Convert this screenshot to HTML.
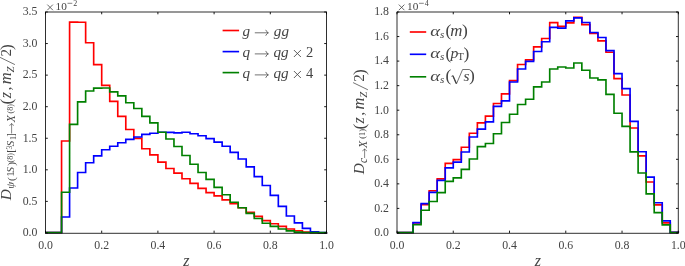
<!DOCTYPE html>
<html><head><meta charset="utf-8">
<style>
html,body{margin:0;padding:0;background:#fff;}
body{width:685px;height:266px;overflow:hidden;}
svg{display:block;}
text{font-family:"Liberation Serif",serif;fill:#444444;}
.tk{font-size:11.8px;}
.it{font-style:italic;}
.yl text{fill:#454545;}
</style></head><body>
<svg width="685" height="266" viewBox="0 0 685 266">
<rect width="685" height="266" fill="#fff"/>
<!-- LEFT CHART -->
<path d="M45.50 232.50 L45.50 232.50 L53.53 232.50 L53.53 232.50 L61.56 232.50 L61.56 141.00 L69.59 141.00 L69.59 22.10 L77.61 22.10 L77.61 22.20 L85.64 22.20 L85.64 42.70 L93.67 42.70 L93.67 64.70 L101.70 64.70 L101.70 85.40 L109.73 85.40 L109.73 101.40 L117.76 101.40 L117.76 116.30 L125.79 116.30 L125.79 129.50 L133.81 129.50 L133.81 138.40 L141.84 138.40 L141.84 148.70 L149.87 148.70 L149.87 154.90 L157.90 154.90 L157.90 162.10 L165.93 162.10 L165.93 168.50 L173.96 168.50 L173.96 173.10 L181.99 173.10 L181.99 178.70 L190.01 178.70 L190.01 183.40 L198.04 183.40 L198.04 188.30 L206.07 188.30 L206.07 192.60 L214.10 192.60 L214.10 195.80 L222.13 195.80 L222.13 199.90 L230.16 199.90 L230.16 203.60 L238.19 203.60 L238.19 207.70 L246.21 207.70 L246.21 212.30 L254.24 212.30 L254.24 216.40 L262.27 216.40 L262.27 220.60 L270.30 220.60 L270.30 223.70 L278.33 223.70 L278.33 226.30 L286.36 226.30 L286.36 229.00 L294.39 229.00 L294.39 230.70 L302.41 230.70 L302.41 232.00 L310.44 232.00 L310.44 232.40 L318.47 232.40 L318.47 232.70 L326.50 232.70 L326.50 232.50" fill="none" stroke="#ff0000" stroke-width="1.65" stroke-linejoin="miter"/>
<path d="M45.50 232.50 L45.50 232.50 L53.53 232.50 L53.53 232.50 L61.56 232.50 L61.56 217.00 L69.59 217.00 L69.59 188.00 L77.61 188.00 L77.61 172.50 L85.64 172.50 L85.64 162.70 L93.67 162.70 L93.67 155.90 L101.70 155.90 L101.70 149.70 L109.73 149.70 L109.73 146.20 L117.76 146.20 L117.76 142.70 L125.79 142.70 L125.79 139.40 L133.81 139.40 L133.81 137.00 L141.84 137.00 L141.84 134.30 L149.87 134.30 L149.87 133.20 L157.90 133.20 L157.90 132.20 L165.93 132.20 L165.93 132.40 L173.96 132.40 L173.96 132.80 L181.99 132.80 L181.99 132.20 L190.01 132.20 L190.01 133.70 L198.04 133.70 L198.04 135.70 L206.07 135.70 L206.07 138.60 L214.10 138.60 L214.10 142.10 L222.13 142.10 L222.13 146.20 L230.16 146.20 L230.16 152.40 L238.19 152.40 L238.19 159.00 L246.21 159.00 L246.21 166.90 L254.24 166.90 L254.24 176.60 L262.27 176.60 L262.27 185.50 L270.30 185.50 L270.30 195.30 L278.33 195.30 L278.33 206.30 L286.36 206.30 L286.36 216.00 L294.39 216.00 L294.39 222.80 L302.41 222.80 L302.41 228.40 L310.44 228.40 L310.44 231.70 L318.47 231.70 L318.47 232.60 L326.50 232.60 L326.50 232.50" fill="none" stroke="#0000ff" stroke-width="1.65" stroke-linejoin="miter"/>
<path d="M45.50 232.50 L45.50 232.50 L53.53 232.50 L53.53 232.50 L61.56 232.50 L61.56 192.20 L69.59 192.20 L69.59 124.40 L77.61 124.40 L77.61 101.90 L85.64 101.90 L85.64 91.00 L93.67 91.00 L93.67 88.10 L101.70 88.10 L101.70 88.00 L109.73 88.00 L109.73 91.80 L117.76 91.80 L117.76 95.90 L125.79 95.90 L125.79 102.70 L133.81 102.70 L133.81 108.50 L141.84 108.50 L141.84 116.30 L149.87 116.30 L149.87 122.90 L157.90 122.90 L157.90 132.20 L165.93 132.20 L165.93 139.00 L173.96 139.00 L173.96 146.50 L181.99 146.50 L181.99 155.50 L190.01 155.50 L190.01 164.20 L198.04 164.20 L198.04 172.50 L206.07 172.50 L206.07 179.30 L214.10 179.30 L214.10 187.30 L222.13 187.30 L222.13 194.70 L230.16 194.70 L230.16 202.20 L238.19 202.20 L238.19 207.70 L246.21 207.70 L246.21 213.30 L254.24 213.30 L254.24 218.50 L262.27 218.50 L262.27 223.20 L270.30 223.20 L270.30 226.30 L278.33 226.30 L278.33 229.00 L286.36 229.00 L286.36 230.90 L294.39 230.90 L294.39 232.10 L302.41 232.10 L302.41 232.50 L310.44 232.50 L310.44 232.60 L318.47 232.60 L318.47 232.60 L326.50 232.60 L326.50 232.50" fill="none" stroke="#008000" stroke-width="1.65" stroke-linejoin="miter"/>
<path d="M222.60 30.50 H239.10" stroke="#ff0000" stroke-width="1.65"/>
<path d="M222.60 51.60 H239.10" stroke="#0000ff" stroke-width="1.65"/>
<path d="M222.60 72.60 H239.10" stroke="#008000" stroke-width="1.65"/>
<g style="filter:grayscale(1)">
<path d="M45.50 11.70 V233.70 M326.50 11.70 V233.70 M45.50 12.00 H326.50 M45.50 233.30 H326.50" fill="none" stroke="#000" stroke-width="0.82"/>
<path d="M45.50 232.95 v-2.30 M45.50 12.00 v2.30" stroke="#000" stroke-width="0.9" fill="none"/>
<text x="45.50" y="249.3" text-anchor="middle" class="tk">0.0</text>
<path d="M101.70 232.95 v-2.30 M101.70 12.00 v2.30" stroke="#000" stroke-width="0.9" fill="none"/>
<text x="101.70" y="249.3" text-anchor="middle" class="tk">0.2</text>
<path d="M157.90 232.95 v-2.30 M157.90 12.00 v2.30" stroke="#000" stroke-width="0.9" fill="none"/>
<text x="157.90" y="249.3" text-anchor="middle" class="tk">0.4</text>
<path d="M214.10 232.95 v-2.30 M214.10 12.00 v2.30" stroke="#000" stroke-width="0.9" fill="none"/>
<text x="214.10" y="249.3" text-anchor="middle" class="tk">0.6</text>
<path d="M270.30 232.95 v-2.30 M270.30 12.00 v2.30" stroke="#000" stroke-width="0.9" fill="none"/>
<text x="270.30" y="249.3" text-anchor="middle" class="tk">0.8</text>
<path d="M326.50 232.95 v-2.30 M326.50 12.00 v2.30" stroke="#000" stroke-width="0.9" fill="none"/>
<text x="326.50" y="249.3" text-anchor="middle" class="tk">1.0</text>
<path d="M45.50 232.95 h2.30 M326.50 232.95 h-2.30" stroke="#000" stroke-width="0.9" fill="none"/>
<text x="37.40" y="236.25" text-anchor="end" class="tk">0.0</text>
<path d="M45.50 201.39 h2.30 M326.50 201.39 h-2.30" stroke="#000" stroke-width="0.9" fill="none"/>
<text x="37.40" y="204.69" text-anchor="end" class="tk">0.5</text>
<path d="M45.50 169.82 h2.30 M326.50 169.82 h-2.30" stroke="#000" stroke-width="0.9" fill="none"/>
<text x="37.40" y="173.12" text-anchor="end" class="tk">1.0</text>
<path d="M45.50 138.26 h2.30 M326.50 138.26 h-2.30" stroke="#000" stroke-width="0.9" fill="none"/>
<text x="37.40" y="141.56" text-anchor="end" class="tk">1.5</text>
<path d="M45.50 106.69 h2.30 M326.50 106.69 h-2.30" stroke="#000" stroke-width="0.9" fill="none"/>
<text x="37.40" y="109.99" text-anchor="end" class="tk">2.0</text>
<path d="M45.50 75.13 h2.30 M326.50 75.13 h-2.30" stroke="#000" stroke-width="0.9" fill="none"/>
<text x="37.40" y="78.43" text-anchor="end" class="tk">2.5</text>
<path d="M45.50 43.56 h2.30 M326.50 43.56 h-2.30" stroke="#000" stroke-width="0.9" fill="none"/>
<text x="37.40" y="46.86" text-anchor="end" class="tk">3.0</text>
<path d="M45.50 12.00 h2.30 M326.50 12.00 h-2.30" stroke="#000" stroke-width="0.9" fill="none"/>
<text x="37.40" y="15.30" text-anchor="end" class="tk">3.5</text>
<path d="M47.30 4.60 L52.90 10.20 M47.30 10.20 L52.90 4.60" stroke="#444444" stroke-width="0.80" fill="none"/>
<text x="55.60" y="10.20" font-size="11.30px">10</text>
<path d="M67.50 3.30 h4.8" stroke="#444444" stroke-width="0.65"/>
<text x="73.30" y="5.80" font-size="8.00px">2</text>
<text x="183.20" y="266.40" font-size="16.00px" class="it">z</text>
<text x="242.60" y="36.10" font-size="15.20px" class="it">g</text>
<path d="M255.20 32.80 H268.20 M265.86 30.20 Q266.64 32.02 268.20 32.80 Q266.64 33.58 265.86 35.40" fill="none" stroke="#444444" stroke-width="0.75" stroke-linecap="round"/>
<text x="273.80" y="36.10" font-size="15.20px" class="it">gg</text>
<text x="242.60" y="57.20" font-size="15.20px" class="it">q</text>
<path d="M255.20 53.90 H268.20 M265.86 51.30 Q266.64 53.12 268.20 53.90 Q266.64 54.68 265.86 56.50" fill="none" stroke="#444444" stroke-width="0.75" stroke-linecap="round"/>
<text x="273.40" y="57.20" font-size="15.20px" class="it">qg</text>
<path d="M293.90 50.00 L300.90 57.00 M293.90 57.00 L300.90 50.00" stroke="#444444" stroke-width="0.85" fill="none"/>
<text x="306.00" y="57.20" font-size="14.50px">2</text>
<text x="242.60" y="78.20" font-size="15.20px" class="it">q</text>
<path d="M255.20 74.90 H268.20 M265.86 72.30 Q266.64 74.12 268.20 74.90 Q266.64 75.68 265.86 77.50" fill="none" stroke="#444444" stroke-width="0.75" stroke-linecap="round"/>
<text x="273.40" y="78.20" font-size="15.20px" class="it">qg</text>
<path d="M293.90 71.00 L300.90 78.00 M293.90 78.00 L300.90 71.00" stroke="#444444" stroke-width="0.85" fill="none"/>
<text x="306.00" y="78.20" font-size="14.50px">4</text>
<g transform="translate(11.3,200.0) rotate(-90)" class="yl">
<text x="-0.20" y="0.00" font-size="15.20px" class="it">D</text>
<text x="11.20" y="3.00" font-size="11.00px" class="it">ψ</text>
<text x="19.00" y="3.20" font-size="11.30px">(</text>
<text x="23.20" y="3.00" font-size="11.00px">1</text>
<text x="27.60" y="3.00" font-size="11.00px" class="it">S</text>
<text x="34.20" y="3.20" font-size="11.30px">)</text>
<text x="37.60" y="1.60" font-size="8.00px">(8)</text>
<text x="47.30" y="3.10" font-size="11.00px">[</text>
<text x="50.40" y="0.90" font-size="7.80px">3</text>
<text x="53.70" y="3.00" font-size="11.00px" class="it">S</text>
<text x="60.00" y="5.00" font-size="8.00px">1</text>
<text x="63.20" y="3.10" font-size="11.00px">]</text>
<path d="M66.90 0.30 H76.40 M74.69 -1.60 Q75.26 -0.27 76.40 0.30 Q75.26 0.87 74.69 2.20" fill="none" stroke="#454545" stroke-width="0.65" stroke-linecap="round"/>
<text x="77.80" y="3.30" font-size="11.60px" class="it">X</text>
<text x="86.60" y="1.60" font-size="8.00px">(8)</text>
<text x="95.60" y="0.60" font-size="17.50px">(</text>
<text x="101.80" y="0.00" font-size="16.00px" class="it">z</text>
<text x="109.50" y="0.00" font-size="15.50px">,</text>
<text x="115.80" y="0.00" font-size="16.50px" class="it">m</text>
<text x="127.50" y="2.60" font-size="11.00px" class="it">Z</text>
<path d="M135.40 3.6 L142.60 -11.2" stroke="#454545" stroke-width="0.75"/>
<text x="143.40" y="0.00" font-size="15.00px">2</text>
<text x="150.10" y="0.60" font-size="17.50px">)</text>
</g>
</g>
<!-- RIGHT CHART -->
<path d="M397.00 232.50 L397.00 232.50 L405.04 232.50 L405.04 232.50 L413.07 232.50 L413.07 222.80 L421.11 222.80 L421.11 204.60 L429.15 204.60 L429.15 190.70 L437.19 190.70 L437.19 178.90 L445.22 178.90 L445.22 163.40 L453.26 163.40 L453.26 159.60 L461.30 159.60 L461.30 147.20 L469.33 147.20 L469.33 133.20 L477.37 133.20 L477.37 122.90 L485.41 122.90 L485.41 116.10 L493.45 116.10 L493.45 103.50 L501.48 103.50 L501.48 93.80 L509.52 93.80 L509.52 80.60 L517.56 80.60 L517.56 64.50 L525.59 64.50 L525.59 59.80 L533.63 59.80 L533.63 46.90 L541.67 46.90 L541.67 38.50 L549.71 38.50 L549.71 22.60 L557.74 22.60 L557.74 26.30 L565.78 26.30 L565.78 22.80 L573.82 22.80 L573.82 17.40 L581.85 17.40 L581.85 24.60 L589.89 24.60 L589.89 33.30 L597.93 33.30 L597.93 40.90 L605.97 40.90 L605.97 52.20 L614.00 52.20 L614.00 78.60 L622.04 78.60 L622.04 95.00 L630.08 95.00 L630.08 128.00 L638.11 128.00 L638.11 155.80 L646.15 155.80 L646.15 182.00 L654.19 182.00 L654.19 204.90 L662.23 204.90 L662.23 222.90 L670.26 222.90 L670.26 232.40 L678.30 232.40 L678.30 232.50" fill="none" stroke="#ff0000" stroke-width="1.65" stroke-linejoin="miter"/>
<path d="M397.00 232.50 L397.00 232.50 L405.04 232.50 L405.04 232.50 L413.07 232.50 L413.07 222.60 L421.11 222.60 L421.11 203.60 L429.15 203.60 L429.15 192.40 L437.19 192.40 L437.19 180.30 L445.22 180.30 L445.22 167.90 L453.26 167.90 L453.26 162.10 L461.30 162.10 L461.30 152.00 L469.33 152.00 L469.33 137.00 L477.37 137.00 L477.37 129.10 L485.41 129.10 L485.41 121.90 L493.45 121.90 L493.45 106.40 L501.48 106.40 L501.48 100.80 L509.52 100.80 L509.52 82.00 L517.56 82.00 L517.56 69.00 L525.59 69.00 L525.59 61.30 L533.63 61.30 L533.63 51.50 L541.67 51.50 L541.67 41.70 L549.71 41.70 L549.71 27.30 L557.74 27.30 L557.74 28.10 L565.78 28.10 L565.78 20.90 L573.82 20.90 L573.82 17.80 L581.85 17.80 L581.85 22.50 L589.89 22.50 L589.89 32.50 L597.93 32.50 L597.93 37.50 L605.97 37.50 L605.97 50.60 L614.00 50.60 L614.00 73.60 L622.04 73.60 L622.04 88.60 L630.08 88.60 L630.08 121.40 L638.11 121.40 L638.11 151.70 L646.15 151.70 L646.15 177.10 L654.19 177.10 L654.19 202.70 L662.23 202.70 L662.23 220.80 L670.26 220.80 L670.26 232.30 L678.30 232.30 L678.30 232.50" fill="none" stroke="#0000ff" stroke-width="1.65" stroke-linejoin="miter"/>
<path d="M397.00 232.50 L397.00 232.50 L405.04 232.50 L405.04 232.50 L413.07 232.50 L413.07 224.70 L421.11 224.70 L421.11 210.20 L429.15 210.20 L429.15 201.50 L437.19 201.50 L437.19 192.60 L445.22 192.60 L445.22 181.30 L453.26 181.30 L453.26 177.80 L461.30 177.80 L461.30 169.40 L469.33 169.40 L469.33 159.00 L477.37 159.00 L477.37 146.60 L485.41 146.60 L485.41 143.50 L493.45 143.50 L493.45 133.70 L501.48 133.70 L501.48 122.50 L509.52 122.50 L509.52 114.20 L517.56 114.20 L517.56 104.50 L525.59 104.50 L525.59 99.20 L533.63 99.20 L533.63 86.80 L541.67 86.80 L541.67 82.00 L549.71 82.00 L549.71 69.00 L557.74 69.00 L557.74 67.00 L565.78 67.00 L565.78 68.00 L573.82 68.00 L573.82 63.00 L581.85 63.00 L581.85 70.20 L589.89 70.20 L589.89 78.00 L597.93 78.00 L597.93 79.90 L605.97 79.90 L605.97 94.30 L614.00 94.30 L614.00 113.20 L622.04 113.20 L622.04 126.30 L630.08 126.30 L630.08 151.80 L638.11 151.80 L638.11 173.00 L646.15 173.00 L646.15 193.90 L654.19 193.90 L654.19 212.60 L662.23 212.60 L662.23 224.80 L670.26 224.80 L670.26 232.50 L678.30 232.50 L678.30 232.50" fill="none" stroke="#008000" stroke-width="1.65" stroke-linejoin="miter"/>
<path d="M409.80 32.00 H426.20" stroke="#ff0000" stroke-width="1.65"/>
<path d="M409.80 54.30 H426.20" stroke="#0000ff" stroke-width="1.65"/>
<path d="M409.80 76.80 H426.20" stroke="#008000" stroke-width="1.65"/>
<g style="filter:grayscale(1)">
<path d="M397.00 11.70 V233.70 M678.30 11.70 V233.70 M397.00 12.00 H678.30 M397.00 233.30 H678.30" fill="none" stroke="#000" stroke-width="0.82"/>
<path d="M397.00 232.95 v-2.30 M397.00 12.00 v2.30" stroke="#000" stroke-width="0.9" fill="none"/>
<text x="397.00" y="249.3" text-anchor="middle" class="tk">0.0</text>
<path d="M453.26 232.95 v-2.30 M453.26 12.00 v2.30" stroke="#000" stroke-width="0.9" fill="none"/>
<text x="453.26" y="249.3" text-anchor="middle" class="tk">0.2</text>
<path d="M509.52 232.95 v-2.30 M509.52 12.00 v2.30" stroke="#000" stroke-width="0.9" fill="none"/>
<text x="509.52" y="249.3" text-anchor="middle" class="tk">0.4</text>
<path d="M565.78 232.95 v-2.30 M565.78 12.00 v2.30" stroke="#000" stroke-width="0.9" fill="none"/>
<text x="565.78" y="249.3" text-anchor="middle" class="tk">0.6</text>
<path d="M622.04 232.95 v-2.30 M622.04 12.00 v2.30" stroke="#000" stroke-width="0.9" fill="none"/>
<text x="622.04" y="249.3" text-anchor="middle" class="tk">0.8</text>
<path d="M678.30 232.95 v-2.30 M678.30 12.00 v2.30" stroke="#000" stroke-width="0.9" fill="none"/>
<text x="678.30" y="249.3" text-anchor="middle" class="tk">1.0</text>
<path d="M397.00 232.95 h2.30 M678.30 232.95 h-2.30" stroke="#000" stroke-width="0.9" fill="none"/>
<text x="388.90" y="236.25" text-anchor="end" class="tk">0.0</text>
<path d="M397.00 208.40 h2.30 M678.30 208.40 h-2.30" stroke="#000" stroke-width="0.9" fill="none"/>
<text x="388.90" y="211.70" text-anchor="end" class="tk">0.2</text>
<path d="M397.00 183.85 h2.30 M678.30 183.85 h-2.30" stroke="#000" stroke-width="0.9" fill="none"/>
<text x="388.90" y="187.15" text-anchor="end" class="tk">0.4</text>
<path d="M397.00 159.30 h2.30 M678.30 159.30 h-2.30" stroke="#000" stroke-width="0.9" fill="none"/>
<text x="388.90" y="162.60" text-anchor="end" class="tk">0.6</text>
<path d="M397.00 134.75 h2.30 M678.30 134.75 h-2.30" stroke="#000" stroke-width="0.9" fill="none"/>
<text x="388.90" y="138.05" text-anchor="end" class="tk">0.8</text>
<path d="M397.00 110.20 h2.30 M678.30 110.20 h-2.30" stroke="#000" stroke-width="0.9" fill="none"/>
<text x="388.90" y="113.50" text-anchor="end" class="tk">1.0</text>
<path d="M397.00 85.65 h2.30 M678.30 85.65 h-2.30" stroke="#000" stroke-width="0.9" fill="none"/>
<text x="388.90" y="88.95" text-anchor="end" class="tk">1.2</text>
<path d="M397.00 61.10 h2.30 M678.30 61.10 h-2.30" stroke="#000" stroke-width="0.9" fill="none"/>
<text x="388.90" y="64.40" text-anchor="end" class="tk">1.4</text>
<path d="M397.00 36.55 h2.30 M678.30 36.55 h-2.30" stroke="#000" stroke-width="0.9" fill="none"/>
<text x="388.90" y="39.85" text-anchor="end" class="tk">1.6</text>
<path d="M397.00 12.00 h2.30 M678.30 12.00 h-2.30" stroke="#000" stroke-width="0.9" fill="none"/>
<text x="388.90" y="15.30" text-anchor="end" class="tk">1.8</text>
<path d="M398.80 4.60 L404.40 10.20 M398.80 10.20 L404.40 4.60" stroke="#444444" stroke-width="0.80" fill="none"/>
<text x="407.10" y="10.20" font-size="11.30px">10</text>
<path d="M419.00 3.30 h4.8" stroke="#444444" stroke-width="0.65"/>
<text x="424.80" y="5.80" font-size="8.00px">4</text>
<text x="534.80" y="266.40" font-size="16.00px" class="it">z</text>
<text transform="translate(430.20,35.80) scale(1.170,0.950)" font-size="16.00px" class="it">α</text>
<text x="439.90" y="38.00" font-size="11.00px" class="it">s</text>
<text x="445.60" y="36.40" font-size="17.50px">(</text>
<text transform="translate(450.20,35.80) scale(1.040,1.000)" font-size="16.20px" class="it">m</text>
<text x="462.00" y="36.40" font-size="17.50px">)</text>
<text transform="translate(430.20,58.10) scale(1.170,0.950)" font-size="16.00px" class="it">α</text>
<text x="439.90" y="60.30" font-size="11.00px" class="it">s</text>
<text x="445.60" y="58.70" font-size="17.50px">(</text>
<text x="450.60" y="58.10" font-size="15.60px" class="it">p</text>
<text x="457.60" y="60.30" font-size="10.50px">T</text>
<text x="463.60" y="58.70" font-size="17.50px">)</text>
<text transform="translate(430.20,80.60) scale(1.170,0.950)" font-size="16.00px" class="it">α</text>
<text x="439.90" y="82.80" font-size="11.00px" class="it">s</text>
<text x="445.60" y="81.20" font-size="17.50px">(</text>
<path d="M451.4 76.40 L452.9 75.60 L456.4 84.00 L462.6 69.50 H469.6" fill="none" stroke="#444444" stroke-width="0.75" stroke-linejoin="miter"/>
<path d="M452.9 75.80 L456.2 83.20" fill="none" stroke="#444444" stroke-width="1.3"/>
<text transform="translate(463.40,80.60) scale(1.080,1.000)" font-size="14.20px" class="it">s</text>
<text x="468.90" y="81.20" font-size="17.50px">)</text>
<g transform="translate(364.3,174) rotate(-90)" class="yl">
<text x="-0.20" y="0.00" font-size="15.20px" class="it">D</text>
<text x="11.00" y="3.00" font-size="11.50px" class="it">c</text>
<path d="M16.40 0.30 H25.00 M23.29 -1.60 Q23.86 -0.27 25.00 0.30 Q23.86 0.87 23.29 2.20" fill="none" stroke="#454545" stroke-width="0.65" stroke-linecap="round"/>
<text x="26.00" y="3.00" font-size="11.60px" class="it">X</text>
<text x="35.30" y="0.30" font-size="8.30px">(1)</text>
<text x="44.40" y="0.60" font-size="17.50px">(</text>
<text x="50.60" y="0.00" font-size="16.00px" class="it">z</text>
<text x="58.30" y="0.00" font-size="15.50px">,</text>
<text x="64.60" y="0.00" font-size="16.50px" class="it">m</text>
<text x="76.30" y="2.60" font-size="11.00px" class="it">Z</text>
<path d="M84.20 3.6 L91.40 -11.2" stroke="#454545" stroke-width="0.75"/>
<text x="92.20" y="0.00" font-size="15.00px">2</text>
<text x="98.90" y="0.60" font-size="17.50px">)</text>
</g>
</g>
</svg>
</body></html>
